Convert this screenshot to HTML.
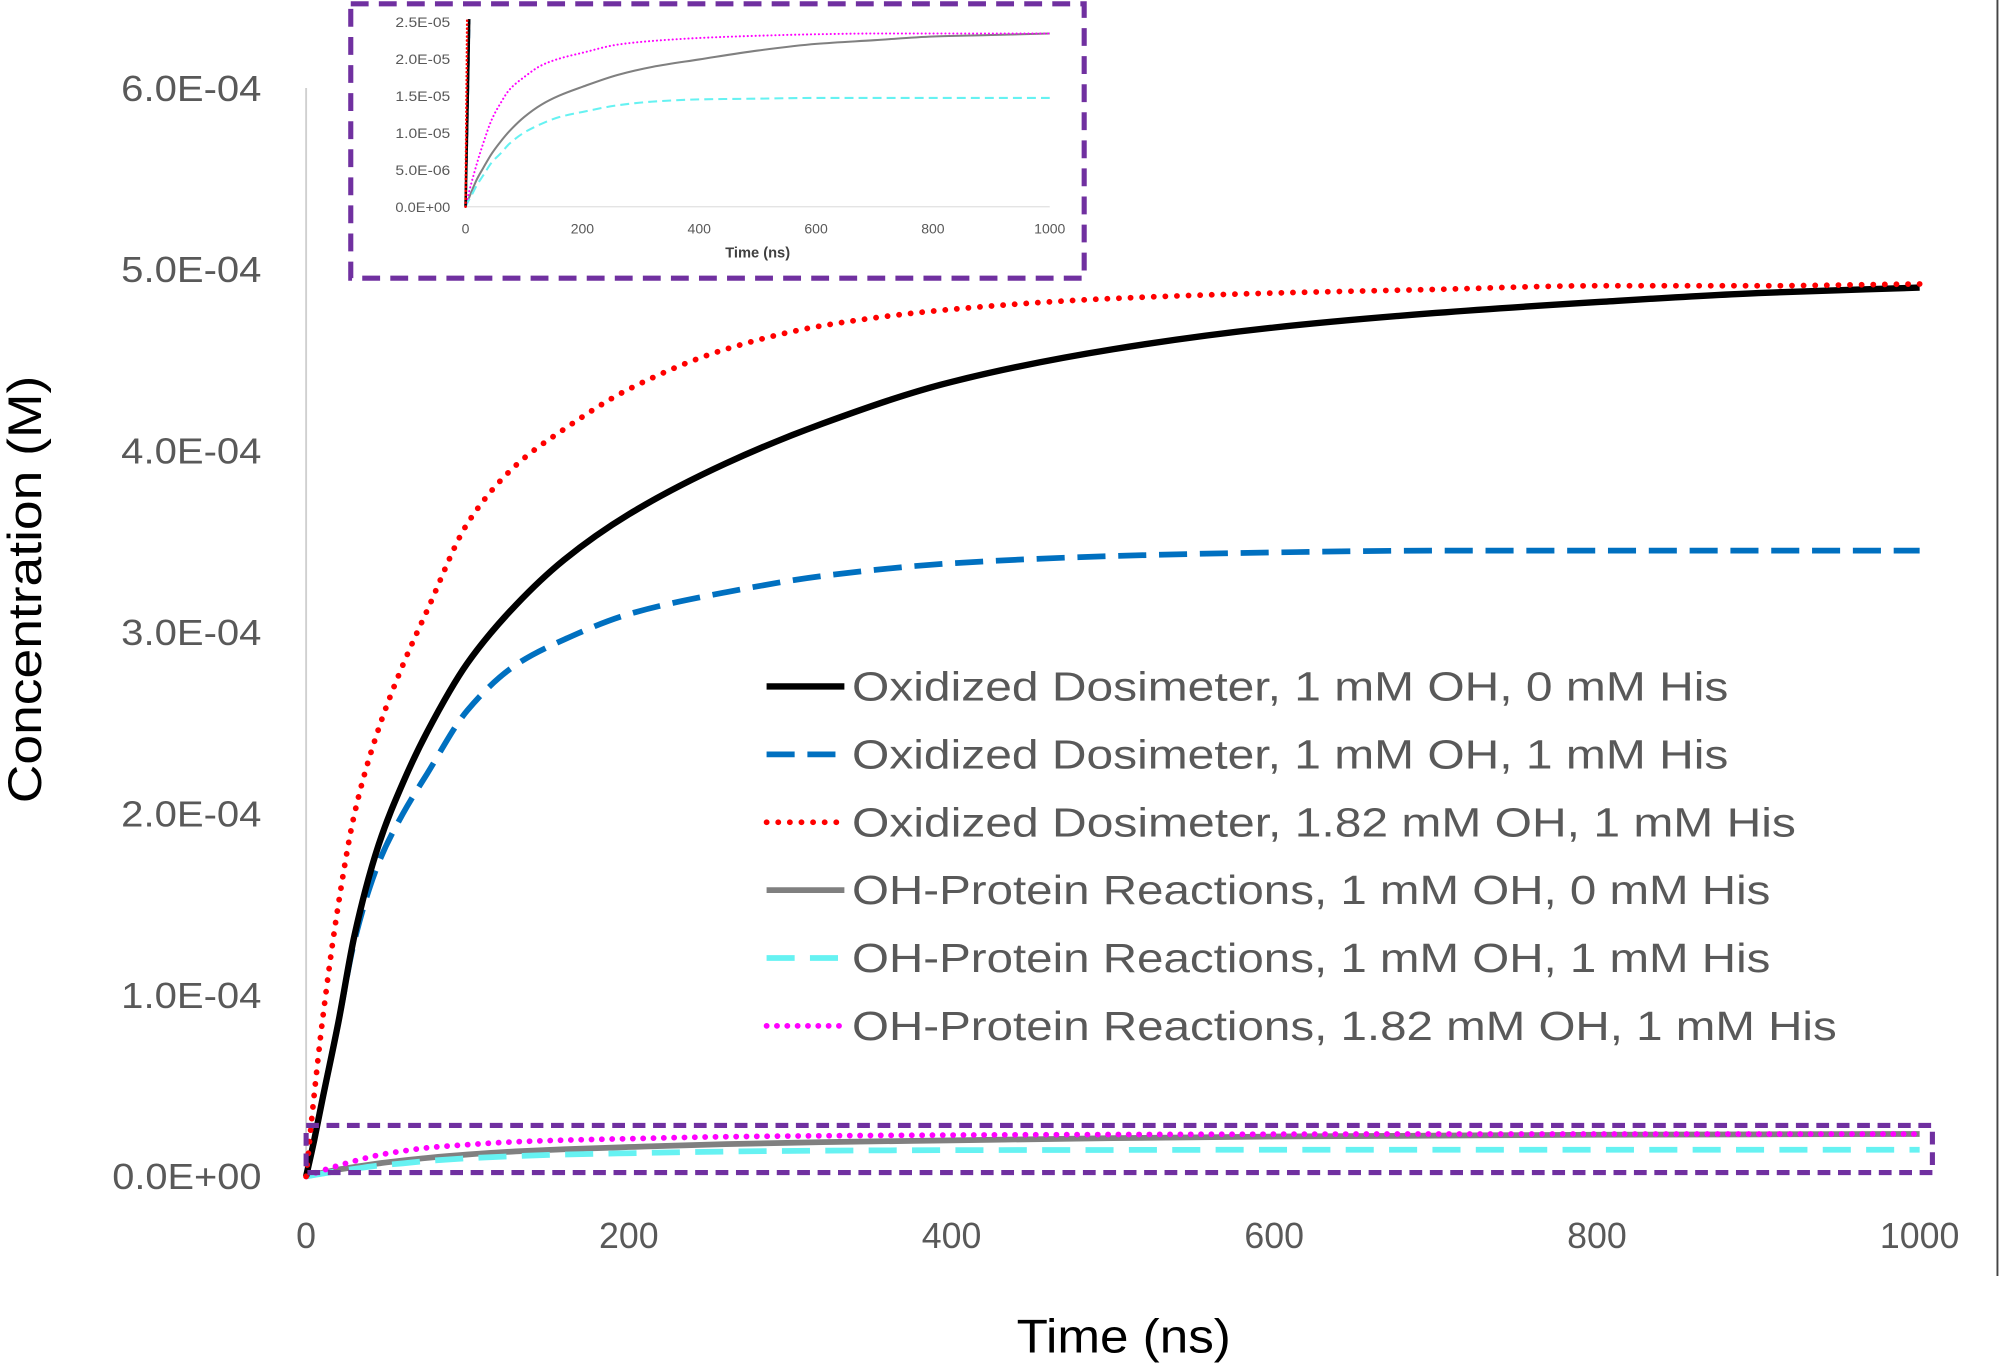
<!DOCTYPE html>
<html><head><meta charset="utf-8"><style>
html,body{margin:0;padding:0;background:#fff;}
svg{display:block;font-family:"Liberation Sans",sans-serif;}
</style></head><body>
<svg id="chart" width="2000" height="1364" viewBox="0 0 1568 1069" preserveAspectRatio="none" xmlns="http://www.w3.org/2000/svg">
<rect x="0" y="0" width="1568" height="1069" fill="#fff"/>
<line x1="1566" y1="0" x2="1566" y2="1000" stroke="#444" stroke-width="1.5"/>
<line x1="240" y1="69" x2="240" y2="922" stroke="#d0d0d0" stroke-width="1.5"/>
<g id="yticks"></g>
<g id="xticks"></g>
<g id="main-series"></g>
<text x="797" y="1060" textLength="168" lengthAdjust="spacingAndGlyphs" font-size="37" fill="#000">Time (ns)</text>
<text x="0" y="0" transform="translate(32,462) rotate(-90)" text-anchor="middle" textLength="335" lengthAdjust="spacingAndGlyphs" font-size="37" fill="#000">Concentration (M)</text>
<rect x="240" y="882" width="1275" height="37" fill="none" stroke="#7030A0" stroke-width="4" stroke-dasharray="10 6"/>
<g id="legend"></g>
<g id="inset">
<clipPath id="insetclip"><rect x="363" y="15" width="465" height="150"/></clipPath>
<line x1="365" y1="162" x2="823" y2="162" stroke="#e0e0e0" stroke-width="1"/>
<g id="inset-yticks"></g>
<g id="inset-xticks"></g>
<g id="inset-series" clip-path="url(#insetclip)"></g>
<text x="594" y="202" text-anchor="middle" font-size="11.5" font-weight="bold" fill="#404040">Time (ns)</text>
<rect x="275" y="3" width="575" height="215" fill="none" stroke="#7030A0" stroke-width="4" stroke-dasharray="14 8"/>
</g>
</svg>
<script>
const times = [0,5,10,20,30,45,60,75,100,130,160,200,260,320,400,500,600,700,800,900,1000];
const dosim1mM0His = [0,0.2e-4,0.42e-4,0.85e-4,1.33e-4,1.83e-4,2.17e-4,2.45e-4,2.83e-4,3.15e-4,3.4e-4,3.65e-4,3.93e-4,4.15e-4,4.38e-4,4.56e-4,4.68e-4,4.76e-4,4.82e-4,4.87e-4,4.9e-4];
const dosim1mM1His = [0,0.2e-4,0.42e-4,0.85e-4,1.3e-4,1.73e-4,2.0e-4,2.22e-4,2.57e-4,2.82e-4,2.96e-4,3.1e-4,3.22e-4,3.31e-4,3.38e-4,3.42e-4,3.44e-4,3.45e-4,3.45e-4,3.45e-4,3.45e-4];
const dosim182mM1His = [0,0.45e-4,0.85e-4,1.5e-4,2.0e-4,2.47e-4,2.82e-4,3.12e-4,3.6e-4,3.92e-4,4.12e-4,4.34e-4,4.56e-4,4.69e-4,4.78e-4,4.84e-4,4.87e-4,4.89e-4,4.91e-4,4.91e-4,4.92e-4];
const prot1mM0His = [0,0.1e-5,0.2e-5,0.38e-5,0.52e-5,0.72e-5,0.88e-5,1.02e-5,1.21e-5,1.38e-5,1.5e-5,1.62e-5,1.78e-5,1.89e-5,1.99e-5,2.11e-5,2.2e-5,2.25e-5,2.3e-5,2.32e-5,2.34e-5];
const prot1mM1His = [0,0.08e-5,0.15e-5,0.3e-5,0.42e-5,0.6e-5,0.72e-5,0.85e-5,1.0e-5,1.12e-5,1.21e-5,1.28e-5,1.37e-5,1.42e-5,1.45e-5,1.46e-5,1.47e-5,1.47e-5,1.47e-5,1.47e-5,1.47e-5];
const prot182mM1His = [0,0.17e-5,0.32e-5,0.6e-5,0.85e-5,1.18e-5,1.4e-5,1.58e-5,1.75e-5,1.91e-5,2.0e-5,2.08e-5,2.19e-5,2.24e-5,2.28e-5,2.31e-5,2.33e-5,2.34e-5,2.34e-5,2.34e-5,2.34e-5];
const yTickValues = [0,1e-4,2e-4,3e-4,4e-4,5e-4,6e-4];
const yTickLabels = ["0.0E+00","1.0E-04","2.0E-04","3.0E-04","4.0E-04","5.0E-04","6.0E-04"];
const xTickValues = [0,200,400,600,800,1000];
const insetYTickValues = [0,0.5e-5,1e-5,1.5e-5,2e-5,2.5e-5];
const insetYTickLabels = ["0.0E+00","5.0E-06","1.0E-05","1.5E-05","2.0E-05","2.5E-05"];
const legendLabels = ["Oxidized Dosimeter, 1 mM OH, 0 mM His","Oxidized Dosimeter, 1 mM OH, 1 mM His","Oxidized Dosimeter, 1.82 mM OH, 1 mM His","OH-Protein Reactions, 1 mM OH, 0 mM His","OH-Protein Reactions, 1 mM OH, 1 mM His","OH-Protein Reactions, 1.82 mM OH, 1 mM His"];
const legendWidths = [687,687,740,720,720,772];

const NS="http://www.w3.org/2000/svg";
const xMain=t=>240+t*(1505-240)/1000;
const yMain=v=>922-v*(922-69)/6e-4;
const xIn=t=>365+t*(823-365)/1000;
const yIn=v=>162-v*(162-17)/2.5e-5;
const styles=[
 {c:"#000000",w:5,d:"",lc:"butt"},
 {c:"#0070C0",w:4.5,d:"22 10",lc:"butt"},
 {c:"#FF0000",w:4.5,d:"0.1 9",lc:"round"},
 {c:"#808080",w:4.5,d:"",lc:"butt"},
 {c:"#66F2F2",w:4.5,d:"22 12",lc:"butt"},
 {c:"#FF00FF",w:4.5,d:"0.1 8",lc:"round"}];
const series=[dosim1mM0His,dosim1mM1His,dosim182mM1His,prot1mM0His,prot1mM1His,prot182mM1His];
const names=['series-dosimeter-1mm-oh-0mm-his','series-dosimeter-1mm-oh-1mm-his','series-dosimeter-182mm-oh-1mm-his','series-protein-1mm-oh-0mm-his','series-protein-1mm-oh-1mm-his','series-protein-182mm-oh-1mm-his'];
function pathFor(vals,fx,fy){
 const p=times.map((t,i)=>[fx(t),fy(vals[i])]);
 const n=p.length, m=[];
 // monotone cubic (Fritsch-Carlson) slopes
 const dx=[],dy=[],s=[];
 for(let i=0;i<n-1;i++){dx.push(p[i+1][0]-p[i][0]);dy.push(p[i+1][1]-p[i][1]);s.push(dy[i]/dx[i]);}
 m[0]=s[0];m[n-1]=s[n-2];
 for(let i=1;i<n-1;i++){ if(s[i-1]*s[i]<=0) m[i]=0; else m[i]=3*(dx[i-1]+dx[i])/((2*dx[i]+dx[i-1])/s[i-1]+(dx[i]+2*dx[i-1])/s[i]); }
 let d="M"+p[0][0]+","+p[0][1];
 for(let i=0;i<n-1;i++){
  const h=dx[i]/3;
  d+=" C"+(p[i][0]+h)+","+(p[i][1]+m[i]*h)+" "+(p[i+1][0]-h)+","+(p[i+1][1]-m[i+1]*h)+" "+p[i+1][0]+","+p[i+1][1];
 }
 return d;
}
function mk(tag,attrs,parent){const e=document.createElementNS(NS,tag);for(const k in attrs)e.setAttribute(k,attrs[k]);parent.appendChild(e);return e;}
const gm=document.getElementById('main-series');
const gi=document.getElementById('inset-series');
const order=[3,4,5,1,0,2];
order.forEach(i=>{
 const s=styles[i];
 const el=mk('path',{d:pathFor(series[i],xMain,yMain),fill:"none",stroke:s.c,"stroke-width":s.w,"stroke-dasharray":s.d,"stroke-linecap":s.lc},gm);
 
 
 const el2=mk('path',{d:pathFor(series[i],xIn,yIn),fill:"none",stroke:s.c,"stroke-width":i<3?2:1.6,"stroke-dasharray":s.d?(i==1||i==4?"7 4":"0.1 3"):"","stroke-linecap":s.lc},gi);
 
 
});
const gy=document.getElementById('yticks');
yTickValues.forEach((v,i)=>{
 const w=i===0?117:110;
 const t=mk('text',{x:205-w,y:yMain(v)+10,textLength:w,lengthAdjust:"spacingAndGlyphs","font-size":28,fill:"#595959"},gy);t.textContent=yTickLabels[i];
 
 
});
const gx=document.getElementById('xticks');
xTickValues.forEach(v=>{
 const t=mk('text',{x:xMain(v),y:978,"text-anchor":"middle","font-size":28,fill:"#595959"},gx);t.textContent=String(v);
 
 
});
const giy=document.getElementById('inset-yticks');
insetYTickValues.forEach((v,i)=>{
 const t=mk('text',{x:310,y:yIn(v)+4,textLength:43,lengthAdjust:"spacingAndGlyphs","font-size":10.5,fill:"#595959"},giy);t.textContent=insetYTickLabels[i];
 
 
});
const gix=document.getElementById('inset-xticks');
xTickValues.forEach(v=>{
 const t=mk('text',{x:xIn(v),y:183,"text-anchor":"middle","font-size":11,fill:"#595959"},gix);t.textContent=String(v);
 
 
});
const gl=document.getElementById('legend');
legendLabels.forEach((lab,i)=>{
 const y=538+i*53.2;const s=styles[i];
 const g=mk('g',{},gl);
 
 
 mk('line',{x1:601,y1:y,x2:662,y2:y,stroke:s.c,"stroke-width":s.w,"stroke-dasharray":s.d,"stroke-linecap":s.lc},g);
 const t=mk('text',{x:668,y:y+11,textLength:legendWidths[i],lengthAdjust:"spacingAndGlyphs","font-size":32,fill:"#595959"},g);t.textContent=lab;
});
</script>
</body></html>
